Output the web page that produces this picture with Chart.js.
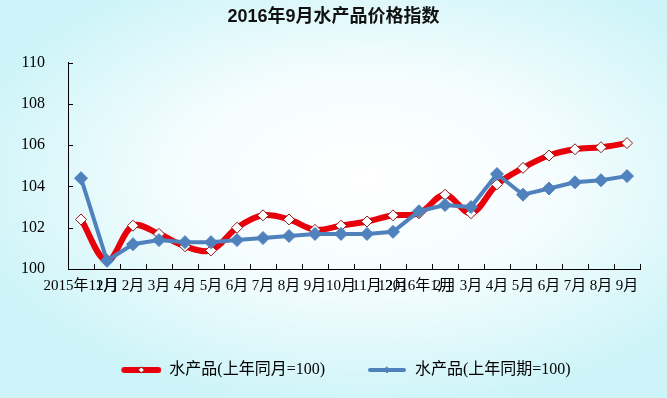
<!DOCTYPE html>
<html>
<head>
<meta charset="utf-8">
<script src="https://cdn.jsdelivr.net/npm/chart.js@4.4.1/dist/chart.umd.min.js"></script>
<style>
  html, body { margin: 0; padding: 0; }
  body {
    width: 667px; height: 398px; overflow: hidden;
    background: radial-gradient(ellipse 62% 58% at 55% 45%, #ffffff 0%, #f5fdfe 45%, #cdf4f8 100%);
  }
  #wrap { position: relative; width: 667px; height: 398px; }
</style>
</head>
<body>
<div id="wrap"><canvas id="myChart" width="667" height="398"></canvas></div>
<script>
// categories as printed under the axis
const months = ['2015年12月', '1月', '2月', '3月', '4月', '5月', '6月', '7月', '8月', '9月', '10月', '11月', '12月',
  '2016年1月', '2月', '3月', '4月', '5月', '6月', '7月', '8月', '9月'];

// 水产品(上年同月=100)
const sameMonth = [102.4, 100.4, 102.1, 101.7, 101.1, 100.9, 102.0, 102.6, 102.4, 101.9, 102.1,
  102.3, 102.6, 102.7, 103.6, 102.7, 104.1, 104.9, 105.5, 105.8, 105.9, 106.1];

// 水产品(上年同期=100)
const samePeriod = [104.4, 100.4, 101.2, 101.4, 101.3, 101.3, 101.4, 101.5, 101.6, 101.7, 101.7,
  101.7, 101.8, 102.8, 103.1, 103.0, 104.6, 103.6, 103.9, 104.2, 104.3, 104.5];

const seriesNames = ['水产品(上年同月=100)', '水产品(上年同期=100)'];
const yMin = 100, yMax = 110, yStep = 2;

const RED = '#e8000b';
const BLUE = '#4f81bd';

// line+diamond sample for the legend; the line sits in the right 40px
function legendMark(lineColor, lineWidth, fill, stroke, r) {
  const c = document.createElement('canvas');
  c.width = 65; c.height = 14;
  const g = c.getContext('2d');
  g.strokeStyle = lineColor; g.lineWidth = lineWidth; g.lineCap = 'round';
  g.beginPath(); g.moveTo(28, 7); g.lineTo(62, 7); g.stroke();
  g.beginPath();
  g.moveTo(45, 7 - r); g.lineTo(45 + r, 7); g.lineTo(45, 7 + r); g.lineTo(45 - r, 7); g.closePath();
  g.fillStyle = fill; g.fill();
  g.lineWidth = 1; g.strokeStyle = stroke; g.stroke();
  return c;
}

// short tick marks pointing into the plot, like the original
const innerTicks = {
  id: 'innerTicks',
  beforeDatasetsDraw(chart) {
    const { ctx, chartArea, scales } = chart;
    const x = scales.x, y = scales.y;
    ctx.save();
    ctx.strokeStyle = '#000';
    ctx.lineWidth = 1;
    ctx.beginPath();
    y.ticks.forEach((t, i) => {
      const py = Math.round(y.getPixelForTick(i)) + 0.5;
      ctx.moveTo(chartArea.left, py);
      ctx.lineTo(chartArea.left + 5, py);
    });
    for (let i = 1; i < months.length; i++) {
      const px = Math.round((x.getPixelForTick(i) + x.getPixelForTick(i - 1)) / 2) + 0.5;
      ctx.moveTo(px, chartArea.bottom);
      ctx.lineTo(px, chartArea.bottom - 5);
    }
    const pr = Math.round(chartArea.right) + 0.5;
    ctx.moveTo(pr, chartArea.bottom);
    ctx.lineTo(pr, chartArea.bottom - 5);
    ctx.stroke();
    ctx.restore();
  }
};

Chart.defaults.font.family = '"Liberation Serif", "Noto Sans CJK SC", serif';
Chart.defaults.color = '#000';

const ctx = document.getElementById('myChart').getContext('2d');
new Chart(ctx, {
  type: 'line',
  data: {
    labels: months,
    datasets: [
      {
        label: seriesNames[0],
        data: sameMonth,
        borderColor: RED,
        borderWidth: 6,
        tension: 0.35,
        pointStyle: 'rectRot',
        pointRadius: 5.5,
        pointBackgroundColor: '#ffffff',
        pointBorderColor: '#8a1a1a',
        pointBorderWidth: 1,
        order: 2
      },
      {
        label: seriesNames[1],
        data: samePeriod,
        borderColor: BLUE,
        borderWidth: 4,
        tension: 0,
        pointStyle: 'rectRot',
        pointRadius: 6.5,
        pointBackgroundColor: BLUE,
        pointBorderColor: BLUE,
        pointBorderWidth: 1,
        order: 1
      }
    ]
  },
  options: {
    responsive: false,
    animation: false,
    layout: { padding: { left: 0, right: 0, top: 0, bottom: 10 } },
    plugins: {
      tooltip: { enabled: false },
      title: {
        display: true,
        text: '2016年9月水产品价格指数',
        font: { family: '"Liberation Sans", "Noto Sans CJK SC", sans-serif', size: 18, weight: 'bold' },
        color: '#111',
        padding: { top: 6, bottom: 35 }
      },
      legend: {
        position: 'bottom',
        labels: {
          usePointStyle: true,
          pointStyleWidth: 65,
          padding: 17,
          font: { size: 16 },
          generateLabels() {
            return [
              { text: seriesNames[0], pointStyle: legendMark(RED, 6, '#fff', '#8a1a1a', 3), datasetIndex: 0, lineWidth: 0, fontColor: '#000' },
              { text: seriesNames[1], pointStyle: legendMark(BLUE, 4, BLUE, BLUE, 3), datasetIndex: 1, lineWidth: 0, fontColor: '#000' }
            ];
          }
        }
      }
    },
    scales: {
      x: {
        offset: true,
        grid: { display: true, drawOnChartArea: false, drawTicks: false },
        border: { display: true, color: '#000', width: 1 },
        ticks: { autoSkip: false, maxRotation: 0, minRotation: 0, padding: 8, font: { size: 15 } },
        afterFit(scale) { scale.height = 76; }
      },
      y: {
        min: yMin,
        max: yMax,
        grid: { display: true, drawOnChartArea: false, drawTicks: false },
        border: { display: true, color: '#000', width: 1 },
        ticks: { stepSize: yStep, padding: 23, font: { size: 16 } },
        afterFit(scale) { scale.width = 68; }
      },
      // empty right-hand margin so title and legend centre on the whole picture
      yRight: {
        position: 'right',
        min: yMin,
        max: yMax,
        grid: { display: false },
        border: { display: false },
        ticks: { display: false },
        afterFit(scale) { scale.width = 27; }
      }
    }
  },
  plugins: [innerTicks]
});
</script>
</body>
</html>
